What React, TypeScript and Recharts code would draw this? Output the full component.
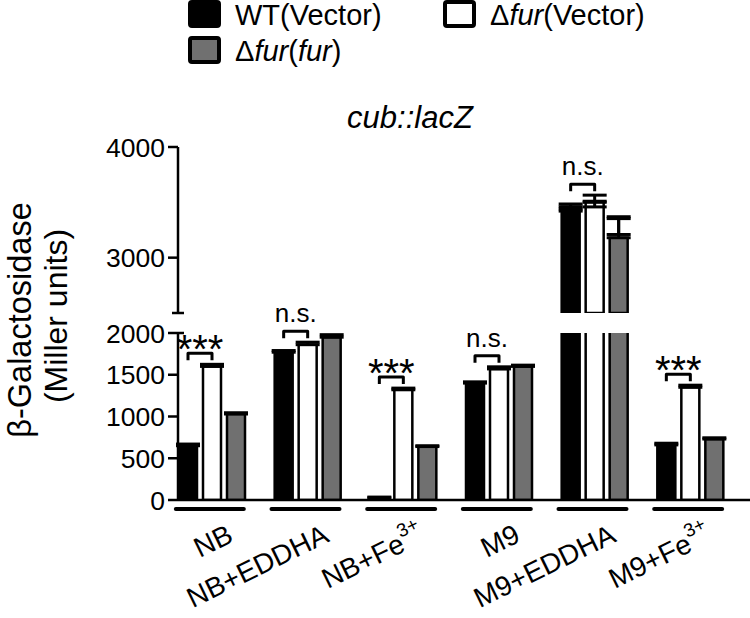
import React from 'react'
import { BarChart, Bar, XAxis, YAxis, ErrorBar, LabelList, Legend } from 'recharts'

// conditions on the x axis (superscript part kept apart)
const conditions = ['NB', 'NB+EDDHA', 'NB+Fe', 'M9', 'M9+EDDHA', 'M9+Fe']
const superscripts = ['', '', '3+', '', '', '3+']

// β-galactosidase, Miller units (mean and upper SEM)
const wtVector = [650, 1770, 25, 1400, 3460, 660]
const wtVectorErr = [20, 20, 10, 15, 25, 20]
const furVector = [1600, 1860, 1320, 1570, 3510, 1350]
const furVectorErr = [25, 30, 20, 25, 55, 25]
const furFur = [1030, 1950, 640, 1600, 3180, 730]
const furFurErr = [15, 30, 10, 15, 190, 15]

// WT(Vector) vs Δfur(Vector)
const significance = ['***', 'n.s.', '***', 'n.s.', 'n.s.', '***']

const seriesKeys = ['wt', 'furVec', 'furFur']
const seriesNames = ['WT(Vector)', 'Δfur(Vector)', 'Δfur(fur)']
const seriesFills = ['#000000', '#ffffff', '#707070']

// broken y axis: two segments
const lowerDomain = [0, 2000]
const lowerTicks = [0, 500, 1000, 1500, 2000]
const upperDomain = [2500, 4000]
const upperTicks = [2500, 3000, 4000]

const W = 750
const H = 618
const FONT = "'Liberation Sans', Arial, sans-serif"
const AXIS_W = 178
const TICK_SIZE = 10
const TICK_MARGIN = 3
const BAR_SIZE = 18
const BAR_GAP = 6
const X_PADDING = { left: -14, right: 12 }
const LABEL_ANGLE = -26

const buildData = (min: number, keepBelow: boolean) =>
  conditions.map((c, i) => {
    const clip = (v: number) => (keepBelow || v >= min ? v : null)
    return {
      condition: c,
      idx: i,
      wt: clip(wtVector[i]),
      wtErr: [0, wtVectorErr[i]],
      furVec: clip(furVector[i]),
      furVecErr: [0, furVectorErr[i]],
      furFur: clip(furFur[i]),
      furFurErr: [0, furFurErr[i]],
    }
  })

const lowerData = buildData(lowerDomain[0], true)
const upperData = buildData(upperDomain[0], false)

function italicFur(name: string) {
  return name.split(/(fur)/).map((part, k) =>
    part === 'fur' ? (
      <tspan key={k} fontStyle="italic">
        fur
      </tspan>
    ) : (
      <tspan key={k}>{part}</tspan>
    )
  )
}

function ValueTick(props: any) {
  const { x, y, payload, capValue, showCapLabel } = props
  const axisX = x + TICK_MARGIN + TICK_SIZE
  const isCap = payload.value === capValue
  const left = isCap && !showCapLabel ? axisX - 6 : axisX - TICK_SIZE
  const right = isCap ? axisX + 6 : axisX
  return (
    <g>
      <line x1={left} x2={right} y1={y} y2={y} stroke="#000" strokeWidth={2.5} />
      {(!isCap || showCapLabel) && (
        <text x={x} y={y} dy="0.36em" textAnchor="end" fontSize={26.5} fontFamily={FONT} fill="#000">
          {payload.value}
        </text>
      )}
    </g>
  )
}

function ConditionTick(props: any) {
  const { x, y, payload } = props
  const sup = superscripts[conditions.indexOf(payload.value)]
  const ax = x + 23
  const ay = y + 41
  return (
    <g>
      <line x1={x - 36} x2={x + 32} y1={y + 9} y2={y + 9} stroke="#000" strokeWidth={4} strokeLinecap="round" />
      <g transform={`translate(${ax},${ay}) rotate(${LABEL_ANGLE})`}>
        <text x={0} y={0} textAnchor="end" fontSize={28} fontFamily={FONT} fill="#000">
          {payload.value}
          {sup && (
            <tspan dy={-14} fontSize={19}>
              {sup}
            </tspan>
          )}
        </text>
      </g>
    </g>
  )
}

function Bracket(props: any) {
  const { x, y, width, height, value, domain } = props
  const i = value as number
  const v = furVector[i]
  if (v < domain[0] || v > domain[1]) return null
  const pxPerUnit = height / (v - domain[0])
  const right = x + width / 2
  const left = right - (BAR_SIZE + BAR_GAP)
  const lineY = y - furVectorErr[i] * pxPerUnit - 11
  const sig = significance[i]
  const stars = sig === '***'
  return (
    <g>
      <path
        d={`M${left},${lineY + 7} V${lineY} H${right} V${lineY + 7}`}
        stroke="#000"
        strokeWidth={3}
        fill="none"
        strokeLinejoin="round"
      />
      <text
        x={(left + right) / 2}
        y={stars ? lineY + 10 : lineY - 9}
        textAnchor="middle"
        fontSize={stars ? 40 : 26}
        fontFamily={FONT}
        fill="#000"
      >
        {sig}
      </text>
    </g>
  )
}

function LegendContent() {
  const cols = [0, 1, 0]
  const rows = [0, 0, 1]
  return (
    <svg width={W} height={70}>
      {seriesNames.map((name, i) => {
        const sx = 190 + cols[i] * 255
        const sy = 2 + rows[i] * 36
        return (
          <g key={name}>
            <rect x={sx} y={sy} width={29} height={24} rx={2} fill={seriesFills[i]} stroke="#000" strokeWidth={4} />
            <text x={sx + 45} y={sy + 23} fontSize={29} fontFamily={FONT} fill="#000">
              {italicFur(name)}
            </text>
          </g>
        )
      })}
    </svg>
  )
}

function bars(domain: number[], withLegendNames: boolean) {
  return seriesKeys.map((key, s) => (
    <Bar
      key={key}
      dataKey={key}
      name={seriesNames[s]}
      fill={seriesFills[s]}
      stroke="#000"
      strokeWidth={2.5}
      isAnimationActive={false}
      legendType={withLegendNames ? 'square' : 'none'}
    >
      <ErrorBar dataKey={`${key}Err`} width={12} stroke="#000" strokeWidth={3} direction="y" />
      {key === 'furVec' && (
        <LabelList dataKey="idx" content={(p: any) => <Bracket {...p} domain={domain} />} />
      )}
    </Bar>
  ))
}

function UpperChart() {
  return (
    <BarChart
      width={W}
      height={H}
      data={upperData}
      margin={{ top: 147, right: 0, bottom: H - 313, left: 0 }}
      barSize={BAR_SIZE}
      barGap={BAR_GAP}
    >
      <XAxis dataKey="condition" hide padding={X_PADDING} />
      <YAxis
        type="number"
        domain={upperDomain}
        ticks={upperTicks}
        allowDataOverflow
        width={AXIS_W}
        axisLine={{ stroke: '#000', strokeWidth: 2.5 }}
        tickLine={false}
        tickSize={TICK_SIZE}
        tickMargin={TICK_MARGIN}
        tick={(p: any) => <ValueTick {...p} capValue={upperDomain[0]} showCapLabel={false} />}
      />
      <Legend
        layout="horizontal"
        verticalAlign="middle"
        align="center"
        content={() => <LegendContent />}
        wrapperStyle={{ position: 'absolute', top: 0, left: 0, width: W, height: 70 }}
      />
      {bars(upperDomain, true)}
    </BarChart>
  )
}

function LowerChart() {
  return (
    <BarChart
      width={W}
      height={H}
      data={lowerData}
      margin={{ top: 333, right: 0, bottom: 0, left: 0 }}
      barSize={BAR_SIZE}
      barGap={BAR_GAP}
    >
      <XAxis
        dataKey="condition"
        height={H - 500}
        padding={X_PADDING}
        interval={0}
        axisLine={{ stroke: '#000', strokeWidth: 2.5 }}
        tickLine={false}
        tickSize={0}
        tickMargin={0}
        tick={(p: any) => <ConditionTick {...p} />}
      />
      <YAxis
        type="number"
        domain={lowerDomain}
        ticks={lowerTicks}
        allowDataOverflow
        width={AXIS_W}
        axisLine={{ stroke: '#000', strokeWidth: 2.5 }}
        tickLine={false}
        tickSize={TICK_SIZE}
        tickMargin={TICK_MARGIN}
        tick={(p: any) => <ValueTick {...p} capValue={lowerDomain[1]} showCapLabel />}
      />
      {bars(lowerDomain, false)}
    </BarChart>
  )
}

export default function App() {
  return (
    <div style={{ position: 'absolute', left: 0, top: 0, width: W, height: H, background: '#fff' }}>
      <div style={{ position: 'absolute', left: 0, top: 0 }}>
        <UpperChart />
      </div>
      <div style={{ position: 'absolute', left: 0, top: 0 }}>
        <LowerChart />
      </div>
      <svg width={W} height={H} style={{ position: 'absolute', left: 0, top: 0, pointerEvents: 'none' }}>
        <text x={410} y={128} textAnchor="middle" fontSize={31} fontStyle="italic" fontFamily={FONT} fill="#000">
          cub::lacZ
        </text>
        <text transform="translate(31,320) rotate(-90)" textAnchor="middle" fontSize={32.5} fontFamily={FONT} fill="#000">
          β-Galactosidase
        </text>
        <text transform="translate(67,316) rotate(-90)" textAnchor="middle" fontSize={32} fontFamily={FONT} fill="#000">
          (Miller units)
        </text>
      </svg>
    </div>
  )
}
